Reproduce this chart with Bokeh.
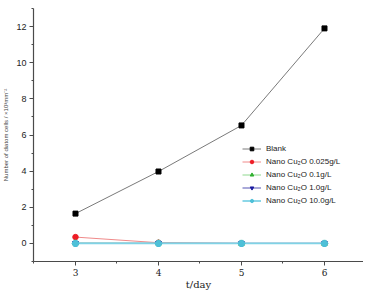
from bokeh.plotting import figure
from bokeh.models import Range1d, FixedTicker, Legend, LegendItem
from bokeh.embed import file_html
from bokeh.resources import INLINE

days = [3, 4, 5, 6]
blank = [1.65, 3.98, 6.53, 11.9]
nano_0025 = [0.35, 0.04, 0.0, 0.0]
nano_01 = [0.02, 0.01, 0.0, 0.0]
nano_10 = [0.01, 0.01, 0.0, 0.0]
nano_100 = [0.0, 0.0, 0.0, 0.0]
series_labels = ["Blank", "Nano Cu\u2082O 0.025g/L", "Nano Cu\u2082O 0.1g/L",
                 "Nano Cu\u2082O 1.0g/L", "Nano Cu\u2082O 10.0g/L"]
y_ticks = [0, 2, 4, 6, 8, 10, 12]
x_ticks = [3, 4, 5, 6]

p = figure(width=363, height=292, output_backend="svg", toolbar_location=None,
           x_range=Range1d(2.494, 6.47), y_range=Range1d(-1, 13),
           min_border_left=33, min_border_top=8, min_border_right=0,
           min_border_bottom=30)
p.outline_line_color = None
p.grid.visible = False
p.background_fill_color = "white"

font = "Liberation Sans"
for ax in (p.xaxis[0], p.yaxis[0]):
    ax.axis_line_color = "#4a4a4a"
    ax.axis_line_width = 1.2
    ax.major_tick_line_color = "#4a4a4a"
    ax.minor_tick_line_color = "#4a4a4a"
    ax.major_tick_out = 4
    ax.major_tick_in = 0
    ax.minor_tick_out = 2
    ax.minor_tick_in = 0
    ax.major_label_text_font = font
    ax.major_label_text_font_size = "9px"
    ax.major_label_text_color = "#222222"

p.yaxis.ticker = FixedTicker(ticks=y_ticks, minor_ticks=list(range(-1, 14)))
p.xaxis.ticker = FixedTicker(ticks=x_ticks, minor_ticks=[2.5, 3.5, 4.5, 5.5, 6.5])
p.yaxis.major_label_standoff = 3
p.xaxis.major_label_standoff = 3
p.xaxis.major_label_text_font = "DejaVu Serif"
p.yaxis.axis_label = "Number of diatom cells / \u00d710\u00b3mm\u207b\u00b2"
p.yaxis.axis_label_text_font = font
p.yaxis.axis_label_text_font_size = "6px"
p.yaxis.axis_label_text_font_style = "normal"
p.yaxis.axis_label_standoff = 4

p.xaxis.axis_label = "t/day"
p.xaxis.axis_label_text_font = "DejaVu Serif"
p.xaxis.axis_label_text_font_size = "10px"
p.xaxis.axis_label_text_font_style = "normal"
p.xaxis.axis_label_text_color = "#222222"
p.xaxis.axis_label_standoff = 0

items = []
r1 = p.line(days, blank, line_color="#7a7a7a", line_width=1)
m1 = p.scatter(days, blank, marker="square", size=5, fill_color="black", line_color="black")
items.append(LegendItem(label=series_labels[0], renderers=[r1, m1]))

r2 = p.line(days, nano_0025, line_color="#f08a8a", line_width=1)
m2 = p.scatter(days, nano_0025, marker="circle", size=5.5, fill_color="#ee1c25", line_color="#ee1c25")
items.append(LegendItem(label=series_labels[1], renderers=[r2, m2]))

r3 = p.line(days, nano_01, line_color="#8fd88f", line_width=1)
m3 = p.scatter(days, nano_01, marker="triangle", size=6, fill_color="#2fb02f", line_color="#2fb02f")
items.append(LegendItem(label=series_labels[2], renderers=[r3, m3]))

r4 = p.line(days, nano_10, line_color="#7070c0", line_width=1.2)
m4 = p.scatter(days, nano_10, marker="inverted_triangle", size=6, fill_color="#1c1ca0", line_color="#1c1ca0")
items.append(LegendItem(label=series_labels[3], renderers=[r4, m4]))

r5 = p.line(days, nano_100, line_color="#7fd3e6", line_width=1.8)
m5 = p.scatter(days, nano_100, marker="hex", size=7, fill_color="#4ec0d8", line_color="#4ec0d8")
items.append(LegendItem(label=series_labels[4], renderers=[r5, m5]))

legend = Legend(items=items, location=(209, 56), padding=0, margin=0,
                spacing=4, glyph_width=19, glyph_height=9, label_height=9,
                label_standoff=5, label_text_font=font, label_text_font_size="8px",
                label_text_color="#222222", border_line_color=None,
                background_fill_alpha=0)
p.add_layout(legend)

open("out.html", "w").write(file_html(p, INLINE))
